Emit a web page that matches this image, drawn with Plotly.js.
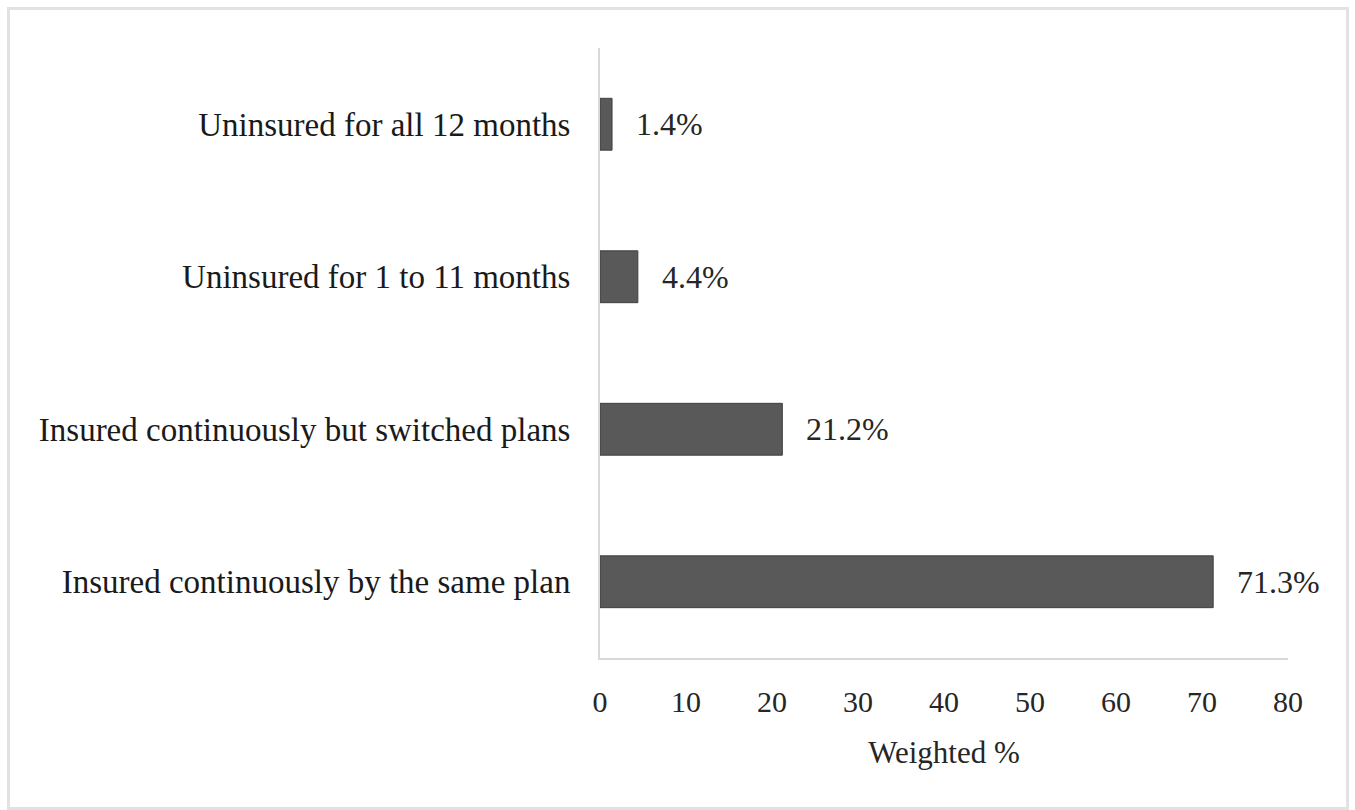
<!DOCTYPE html>
<html>
<head>
<meta charset="utf-8">
<script src="https://cdn.plot.ly/plotly-3.0.1.min.js"></script>
<style>
html,body{margin:0;padding:0;background:#fff;}
#wrap{position:relative;width:1355px;height:810px;}
#chart{width:1355px;height:810px;}
#frame{position:absolute;left:7px;top:7px;width:1336px;height:797px;border:3px solid #e2e2e2;pointer-events:none;}
</style>
</head>
<body>
<div id="wrap"><div id="chart"></div><div id="frame"></div></div>
<script>
const categories = [
  "Insured continuously by the same plan",
  "Insured continuously but switched plans",
  "Uninsured for 1 to 11 months",
  "Uninsured for all 12 months"
];
const values = [71.3, 21.2, 4.4, 1.4];
const valueLabels = ["71.3%", "21.2%", "4.4%", "1.4%"];
const xTicks = [0, 10, 20, 30, 40, 50, 60, 70, 80];

const FONT = "Liberation Serif, Times New Roman, serif";

const trace = {
  type: "bar",
  orientation: "h",
  y: categories,
  x: values,
  width: 0.34,
  marker: {color: "#595959", line: {color: "#3f3f3f", width: 1}},
  hoverinfo: "skip"
};

const annotations = values.map((v, i) => ({
  x: v, y: categories[i], xref: "x", yref: "y",
  text: valueLabels[i], showarrow: false,
  xanchor: "left", yanchor: "middle", xshift: 22,
  font: {family: FONT, size: 32, color: "#262626"}
}));

const layout = {
  width: 1355, height: 810,
  margin: {l: 600, r: 67, t: 48, b: 152},
  paper_bgcolor: "#ffffff", plot_bgcolor: "#ffffff",
  showlegend: false,
  font: {family: FONT, color: "#262626"},
  xaxis: {
    range: [0, 80], tickvals: xTicks, ticktext: xTicks.map(String),
    showgrid: false, zeroline: false,
    showline: true, linecolor: "#d9d9d9", linewidth: 2,
    ticks: "outside", ticklen: 16, tickcolor: "rgba(0,0,0,0)",
    tickfont: {family: FONT, size: 30, color: "#262626"},
    title: {text: "Weighted %", standoff: 24, font: {family: FONT, size: 31, color: "#262626"}}
  },
  yaxis: {
    range: [-0.5, 3.5],
    showgrid: false, zeroline: false,
    showline: true, linecolor: "#d9d9d9", linewidth: 2,
    ticks: "outside", ticklen: 21, tickcolor: "rgba(0,0,0,0)",
    tickfont: {family: FONT, size: 33, color: "#1a1a1a"}
  },
  annotations: annotations
};

Plotly.newPlot("chart", [trace], layout, {displayModeBar: false, staticPlot: true});
</script>
</body>
</html>
